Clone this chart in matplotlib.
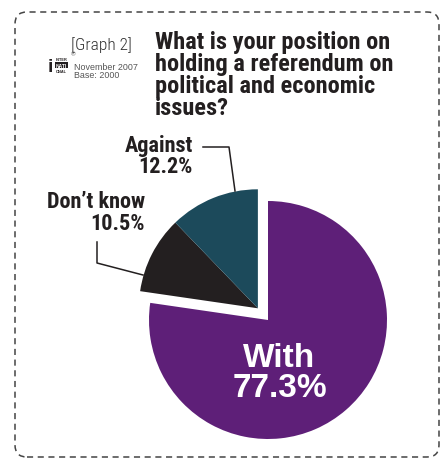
import numpy as np
import matplotlib
matplotlib.use("Agg")
import matplotlib.pyplot as plt
from matplotlib.patches import FancyBboxPatch

# datos del grafico (orden en sentido horario desde arriba)
categorias = ["With", "Don\u2019t know", "Against"]
valores = [77.3, 10.5, 12.2]
colores = ["#5E1F78", "#231F20", "#1C4A5B"]
titulo = ["What is your position on", "holding a referendum on",
          "political and economic", "issues?"]

W, H = 446, 460
fig = plt.figure(figsize=(W / 100, H / 100), dpi=100)
ax = fig.add_axes([0, 0, 1, 1])

def Y(y):
    # pasar de coordenadas de imagen a coordenadas del eje
    return H - y

cond = ["Roboto Condensed", "DejaVu Sans"]
arial = ["Liberation Sans", "DejaVu Sans"]
negro = "#231F20"

# pastel principal
r = 119
cx, cy = 268, Y(321)
wedges, _ = ax.pie(valores, colors=colores, startangle=90, counterclock=False,
                   radius=r, center=(cx, cy), wedgeprops=dict(linewidth=0))
# separar las dos porciones pequenas
ang = np.deg2rad(90 + 360 * (valores[1] + valores[2]) / 200)
d = 0.13 * r
for w in wedges[1:]:
    w.set_center((cx + d * np.cos(ang), cy + d * np.sin(ang)))

ax.set_xlim(0, W)
ax.set_ylim(0, H)
ax.set_aspect("equal")
ax.axis("off")

# marco punteado
marco = FancyBboxPatch((15, Y(458)), 424, 445, boxstyle="round,pad=0,rounding_size=12",
                       fill=False, edgecolor="#444444", linestyle=(0, (4, 3)), linewidth=1.1)
ax.add_patch(marco)

# titulo
for i, linea in enumerate(titulo):
    ax.text(155, Y(49 + 22 * i), linea, family=cond, fontweight="bold", fontsize=17.6,
            va="baseline", ha="left", color=negro)
ax.text(132, Y(50), "[Graph 2]", family=cond, fontweight="light", fontsize=12.5,
        ha="right", va="baseline", color="#333333")
ax.text(74, Y(67), "November 2007", family=arial, fontsize=6.4, ha="left", va="center", color="#555555")
ax.text(74, Y(76), "Base: 2000", family=arial, fontsize=6.4, ha="left", va="center", color="#555555")
# logo pequeno
ax.text(48, Y(67), "i", family=arial, fontsize=14, fontweight="bold", ha="left", va="center", color=negro)
ax.text(56, Y(60), "INTER", family=arial, fontsize=2.8, fontweight="bold", ha="left", va="center", color=negro)
ax.text(56, Y(66), "NATI", family=arial, fontsize=3.6, fontweight="bold", ha="left", va="center", color="white",
        bbox=dict(boxstyle="square,pad=0.15", fc=negro, ec="none"))
ax.text(56, Y(72), "ONAL", family=arial, fontsize=2.8, fontweight="bold", ha="left", va="center", color=negro)
ax.text(71, Y(55), "\u00ae", family=arial, fontsize=4.5, ha="left", va="center", color="#555555")

# etiquetas
ax.text(193, Y(152), categorias[2], family=cond, fontweight="bold", fontsize=16, ha="right", va="baseline", color=negro)
ax.text(193, Y(173), f"{valores[2]}%", family=cond, fontweight="bold", fontsize=16, ha="right", va="baseline", color=negro)
ax.text(145, Y(208), categorias[1], family=cond, fontweight="bold", fontsize=16, ha="right", va="baseline", color=negro)
ax.text(145, Y(230), f"{valores[1]}%", family=cond, fontweight="bold", fontsize=16, ha="right", va="baseline", color=negro)
ax.text(279, Y(367), categorias[0], family=arial, fontweight="bold", fontsize=24, ha="center", va="baseline", color="white")
ax.text(280, Y(397), f"{valores[0]}%", family=arial, fontweight="bold", fontsize=24, ha="center", va="baseline", color="white")

# lineas guia
ax.plot([203, 229, 235], [Y(148), Y(148), Y(192)], color=negro, lw=1.1)
ax.plot([97, 97, 143], [Y(243), Y(264), Y(276)], color=negro, lw=1.1)

fig.savefig("out.png", dpi=100)
